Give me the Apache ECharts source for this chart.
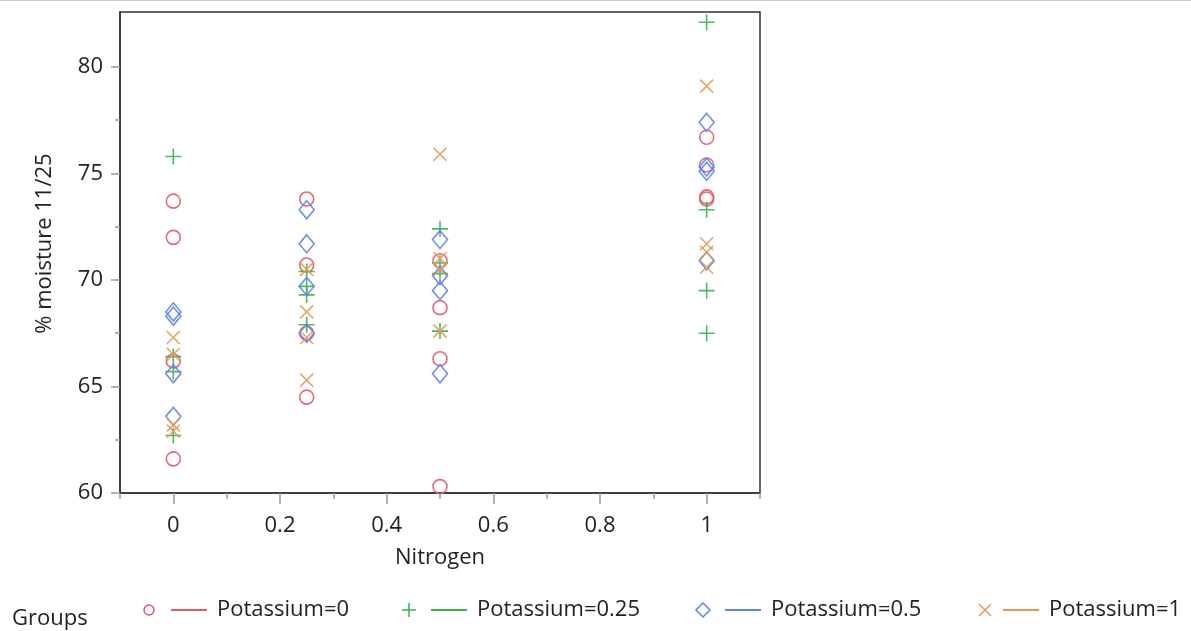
<!DOCTYPE html>
<html>
<head>
<meta charset="utf-8">
<script src="https://cdn.jsdelivr.net/npm/echarts@6/dist/echarts.min.js"></script>
<style>html,body{margin:0;padding:0;background:#fff}#c{width:1191px;height:631px}</style>
</head>
<body>
<div id="c"></div>
<script>
// Data (values per nitrogen level, 4 replicates each)
const nitrogen = [0, 0.25, 0.5, 1];
const groupNames = ['Potassium=0', 'Potassium=0.25', 'Potassium=0.5', 'Potassium=1'];
const potassium0   = [[73.7, 72.0, 66.2, 61.6], [73.8, 70.7, 67.5, 64.5], [70.9, 68.7, 66.3, 60.3], [76.7, 75.4, 73.9, 73.8]];
const potassium025 = [[75.8, 66.4, 65.7, 62.7], [70.4, 69.7, 69.3, 67.9], [72.4, 70.8, 70.3, 67.6], [82.1, 73.3, 69.5, 67.5]];
const potassium05  = [[68.5, 68.3, 65.6, 63.6], [73.3, 71.7, 69.7, 67.5], [71.9, 70.2, 69.5, 65.6], [77.4, 75.3, 75.1, 70.9]];
const potassium1   = [[67.3, 66.5, 63.2, 62.9], [70.5, 68.5, 67.3, 65.3], [75.9, 71.0, 70.5, 67.6], [79.1, 71.7, 71.3, 70.6]];
const xTickLabels = [0, 0.2, 0.4, 0.6, 0.8, 1];
const xMinorTicks = [-0.1, 0.1, 0.3, 0.5, 0.7, 0.9, 1.1];
const yTickLabels = [60, 65, 70, 75, 80];
const yMinorTicks = [62.5, 67.5, 72.5, 77.5];

const colors = ['#df5b6b', '#3daf4c', '#5f82ec', '#e09a58'];
const FONT = '"Open Sans", "Noto Sans", sans-serif';
const FS = 22;

function toPoints(vals) {
  const pts = [];
  vals.forEach((arr, i) => arr.forEach(v => pts.push([nitrogen[i], v])));
  return pts;
}
const groups = [potassium0, potassium025, potassium05, potassium1];
const symbols = [
  {symbol: 'circle', size: 14},
  {symbol: 'path://M0,8L16,8M8,0L8,16', size: 16},
  {symbol: 'diamond', size: [15, 18]},
  {symbol: 'path://M0,0L14,14M14,0L0,14', size: 13}
];

const series = groups.map((g, i) => ({
  type: 'scatter',
  name: groupNames[i],
  data: toPoints(g),
  symbol: symbols[i].symbol,
  symbolSize: symbols[i].size,
  symbolKeepAspect: true,
  itemStyle: {color: 'rgba(0,0,0,0)', borderColor: colors[i], borderWidth: 1.6, opacity: 0.9},
  emphasis: {disabled: true},
  z: 2 + i
}));

const chart = echarts.init(document.getElementById('c'));

// legend drawn with graphics
const legendG = [];
legendG.push({type: 'text', style: {x: 12, y: 619, text: 'Groups', font: FS + 'px ' + FONT, fill: '#222', verticalAlign: 'middle', align: 'left'}});
const legX = [149, 409, 703, 985];
const cy = 610;
legX.forEach((x, i) => {
  const c = colors[i];
  if (i === 0) legendG.push({type: 'circle', shape: {cx: x, cy: cy, r: 5}, style: {fill: 'none', stroke: c, lineWidth: 1.5}});
  if (i === 1) legendG.push({type: 'polyline', shape: {points: [[x - 7, cy], [x + 7, cy]]}, style: {stroke: c, lineWidth: 1.5}},
                            {type: 'polyline', shape: {points: [[x, cy - 7], [x, cy + 7]]}, style: {stroke: c, lineWidth: 1.5}});
  if (i === 2) legendG.push({type: 'polygon', shape: {points: [[x, cy - 7], [x + 7, cy], [x, cy + 7], [x - 7, cy]]}, style: {fill: 'none', stroke: c, lineWidth: 1.5}});
  if (i === 3) legendG.push({type: 'polyline', shape: {points: [[x - 6, cy - 6], [x + 6, cy + 6]]}, style: {stroke: c, lineWidth: 1.5}},
                            {type: 'polyline', shape: {points: [[x + 6, cy - 6], [x - 6, cy + 6]]}, style: {stroke: c, lineWidth: 1.5}});
  const lx0 = x + (i === 3 ? 18 : 22);
  legendG.push({type: 'line', shape: {x1: lx0, y1: cy, x2: lx0 + 36, y2: cy}, style: {stroke: c, lineWidth: 2}});
  legendG.push({type: 'text', style: {x: lx0 + 46, y: cy, text: groupNames[i], font: FS + 'px ' + FONT, fill: '#222', verticalAlign: 'middle', align: 'left'}});
});
legendG.push({type: 'line', shape: {x1: 0, y1: 0.5, x2: 1191, y2: 0.5}, style: {stroke: '#c8c8c8', lineWidth: 1}});

chart.setOption({
  animation: false,
  backgroundColor: '#fff',
  grid: {left: 120, right: 431, top: 12, bottom: 138, show: true, borderColor: '#333', borderWidth: 1.5, containLabel: false},
  xAxis: [{
    type: 'value', min: -0.1, max: 1.1,
    name: 'Nitrogen', nameLocation: 'middle', nameGap: 54,
    nameTextStyle: {fontSize: FS, fontFamily: FONT, color: '#222'},
    axisLine: {show: true, onZero: false, lineStyle: {color: '#333', width: 1.5}},
    axisTick: {show: true, inside: false, length: 11, customValues: xTickLabels, lineStyle: {color: '#999', width: 1.5}},
    axisLabel: {customValues: xTickLabels, margin: 22, fontSize: FS, fontFamily: FONT, color: '#222',
      formatter: v => String(Math.round(v * 10) / 10)},
    splitLine: {show: false}
  }, {
    type: 'value', min: -0.1, max: 1.1, position: 'bottom',
    axisLine: {show: false, onZero: false},
    axisTick: {show: true, length: 6, customValues: xMinorTicks, lineStyle: {color: '#999', width: 1.5}},
    axisLabel: {show: false}, splitLine: {show: false}
  }],
  yAxis: [{
    type: 'value', min: 60, max: 82.58,
    name: '% moisture 11/25', nameLocation: 'middle', nameGap: 64,
    nameTextStyle: {fontSize: FS, fontFamily: FONT, color: '#222', padding: [0, 0, 0, 18]},
    axisLine: {show: true, onZero: false, lineStyle: {color: '#333', width: 1.5}},
    axisTick: {show: true, length: 9, customValues: yTickLabels, lineStyle: {color: '#999', width: 1.5}},
    axisLabel: {customValues: yTickLabels, margin: 17, fontSize: FS, fontFamily: FONT, color: '#222'},
    splitLine: {show: false}
  }, {
    type: 'value', min: 60, max: 82.58, position: 'left',
    axisLine: {show: false, onZero: false},
    axisTick: {show: true, length: 5, customValues: yMinorTicks, lineStyle: {color: '#999', width: 1.5}},
    axisLabel: {show: false}, splitLine: {show: false}
  }],
  series: series,
  graphic: legendG
});
</script>
</body>
</html>
